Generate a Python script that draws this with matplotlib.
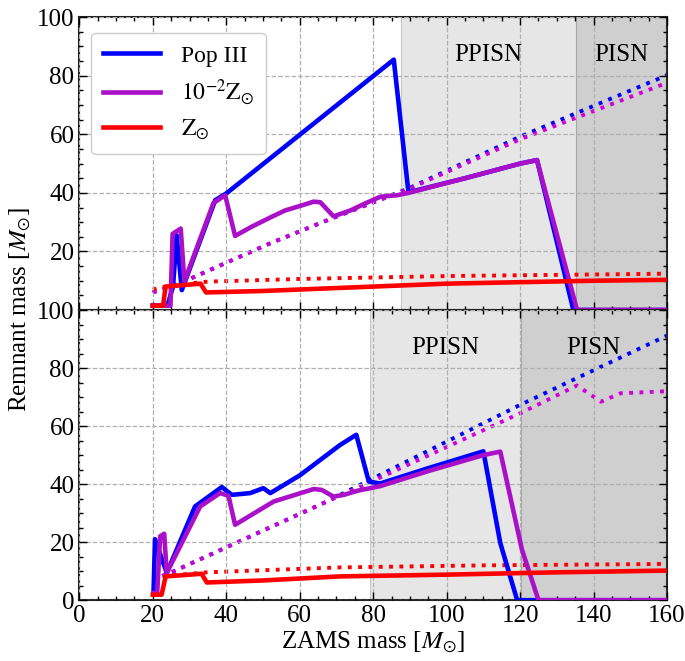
import matplotlib
matplotlib.use("Agg")
from matplotlib import pyplot as plt
from matplotlib.ticker import MultipleLocator

plt.rcParams['font.family'] = ['Liberation Serif', 'DejaVu Serif']
plt.rcParams['mathtext.fontset'] = 'stix'
plt.rcParams['font.size'] = 16

# ---- top panel data ----
popIII_top_x = [20, 24, 25.5, 26.5, 27.9, 37, 40, 85.6, 89.6, 105, 120, 124.6, 134.5, 160]
popIII_top_y = [1.5, 1.5, 8, 25.5, 6.8, 37.5, 39.8, 85.5, 40.2, 45, 50, 51.2, 0, 0]
z2_top_x = [20, 24.8, 25.4, 27.6, 28.6, 36.5, 39.7, 42.4, 47, 52, 56, 60, 63.8, 65.6, 69.2, 73.8, 78, 82, 86.5, 89.6, 105, 120, 124.6, 135.5, 160]
z2_top_y = [1.5, 1.5, 26, 27.8, 9.8, 36.5, 39.2, 25.3, 28.5, 31.6, 34, 35.5, 37, 36.8, 32, 34, 36.5, 38.7, 39.2, 40, 45, 50, 51.2, 0, 0]
zsun_top_x = [20, 22.8, 23.5, 33, 34.5, 50, 60, 80, 100, 120, 140, 160]
zsun_top_y = [1.5, 1.5, 8, 9, 6, 6.5, 7, 8, 9, 9.5, 10, 10.3]
popIII_top_dot_x = [20, 28.4, 52, 69.2, 89.6, 120, 160]
popIII_top_dot_y = [6, 9.7, 22.8, 31.5, 41.5, 59.2, 80.2]
z2_top_dot_x = [20, 28.4, 52, 69.2, 89.6, 120, 160]
z2_top_dot_y = [6, 9.7, 22.8, 31.5, 41.3, 58.3, 77.6]
zsun_top_dot_x = [20, 25, 35, 60, 100, 160]
zsun_top_dot_y = [7, 8.5, 9.7, 10.6, 11.6, 12.4]

# ---- bottom panel data ----
popIII_bot_x = [20.2, 20.6, 23.8, 31.5, 38.8, 41.5, 46.5, 50.1, 52, 60, 71, 75.4, 78.8, 81.9, 95, 110, 114.6, 119.2, 160]
popIII_bot_y = [2.5, 21, 9.4, 32.3, 39, 36.3, 36.9, 38.6, 36.9, 43, 53.5, 57, 40.9, 40.2, 45.5, 51.3, 19.7, 0, 0]
z2_bot_x = [20.2, 21.2, 22, 23.1, 23.8, 32.9, 38.3, 40.6, 42.4, 52.9, 63.8, 66, 69.2, 72, 76, 81.9, 95, 110, 114.6, 120.5, 125, 160]
z2_bot_y = [2.5, 2.5, 22, 22.9, 9.4, 32.3, 36.9, 36, 26, 34, 38.3, 38, 35.7, 36.3, 37.8, 39.3, 44.5, 50, 51.2, 17.4, 0, 0]
zsun_bot_x = [20, 22.4, 23.5, 33.3, 34.7, 50, 71, 100, 130, 160]
zsun_bot_y = [1.9, 1.9, 8.2, 9.1, 6.1, 6.8, 8.2, 8.8, 9.6, 10.2]
popIII_bot_dot_x = [20, 25.6, 67.4, 79.2, 120, 160]
popIII_bot_dot_y = [7, 9.9, 34, 41.5, 67.3, 91.2]
z2_bot_dot_x = [20, 25.6, 67.4, 78, 120, 135.5, 142, 147.3, 160]
z2_bot_dot_y = [7, 9.9, 34, 40, 64.4, 74, 68.4, 71.3, 72]
zsun_bot_dot_x = [20, 25, 34.7, 71, 110, 160]
zsun_bot_dot_y = [7, 8.5, 9.6, 11.3, 12, 12.5]

# regions: (PPISN start, PISN start)
regions_top = (87.5, 135.3)
regions_bot = (79, 120.3)

blue = '#0000ff'
purple = '#aa10c8'
purple_dot = '#d000d8'
red = '#ff0000'

fig = plt.figure(figsize=(6.85, 6.61), dpi=100)
ax1 = fig.add_axes([0.1158, 0.531, 0.858, 0.443])
ax2 = fig.add_axes([0.1158, 0.092, 0.858, 0.439], sharex=ax1)

panels = [
    (ax1, popIII_top_x, popIII_top_y, z2_top_x, z2_top_y, zsun_top_x, zsun_top_y,
     popIII_top_dot_x, popIII_top_dot_y, z2_top_dot_x, z2_top_dot_y,
     zsun_top_dot_x, zsun_top_dot_y, regions_top),
    (ax2, popIII_bot_x, popIII_bot_y, z2_bot_x, z2_bot_y, zsun_bot_x, zsun_bot_y,
     popIII_bot_dot_x, popIII_bot_dot_y, z2_bot_dot_x, z2_bot_dot_y,
     zsun_bot_dot_x, zsun_bot_dot_y, regions_bot),
]

for (ax, px, py, mx, my, rx, ry, pdx, pdy, mdx, mdy, rdx, rdy, reg) in panels:
    ax.axvspan(reg[0], 160, color='#e6e6e6', zorder=0, lw=0)
    ax.axvspan(reg[1], 160, color='#cfcfcf', zorder=0, lw=0)
    ax.axvline(reg[0], color='#c8c8c8', lw=0.8, zorder=0.5)
    ax.axvline(reg[1], color='#a8a8a8', lw=0.8, zorder=0.5)
    ax.plot(pdx, pdy, ':', color=blue, lw=2.8, zorder=2)
    ax.plot(mdx, mdy, ':', color=purple_dot, lw=2.8, zorder=2)
    ax.plot(rdx, rdy, ':', color=red, lw=2.8, zorder=2)
    ax.plot(px, py, '-', color=blue, lw=3.3, zorder=3, label='Pop III')
    ax.plot(mx, my, '-', color=purple, lw=3.3, zorder=4, label=r'$10^{-2}\mathrm{Z}_{\odot}$')
    ax.plot(rx, ry, '-', color=red, lw=3.3, zorder=5, label=r'$\mathrm{Z}_{\odot}$')
    ax.set_xlim(0, 160)
    ax.set_ylim(0, 100)
    ax.xaxis.set_major_locator(MultipleLocator(20))
    ax.xaxis.set_minor_locator(MultipleLocator(5))
    ax.yaxis.set_major_locator(MultipleLocator(20))
    ax.yaxis.set_minor_locator(MultipleLocator(5))
    ax.tick_params(which='both', direction='in', top=True, right=True, labelsize=18)
    ax.tick_params(which='major', length=6, width=1)
    ax.tick_params(which='minor', length=3, width=1)
    ax.grid(True, which='major', color='#b0b0b0', linestyle='--', linewidth=0.9)
    ax.set_axisbelow(False)
    for s in ax.spines.values():
        s.set_linewidth(1.5)
        s.set_color('#222222')

ax1.text(111.4, 87, 'PPISN', ha='center', va='center', fontsize=18)
ax1.text(147.5, 87, 'PISN', ha='center', va='center', fontsize=18)
ax2.text(99.6, 87, 'PPISN', ha='center', va='center', fontsize=18)
ax2.text(140, 87, 'PISN', ha='center', va='center', fontsize=18)

plt.setp(ax1.get_xticklabels(), visible=False)
ax1.set_yticks([20, 40, 60, 80, 100])

leg = ax1.legend(loc='upper left', fontsize=17, handlelength=2.4, borderpad=0.5,
                 labelspacing=0.45, handletextpad=0.9, framealpha=1,
                 fancybox=True, edgecolor='#cccccc', bbox_to_anchor=(0.0, 0.985))

ax2.set_xlabel(r'ZAMS mass [$M_{\odot}$]', fontsize=18, labelpad=2)
fig.text(0.03, 0.531, r'Remnant mass [$M_{\odot}$]', rotation=90, ha='center',
         va='center', fontsize=18)

fig.savefig('out.png', dpi=100)
